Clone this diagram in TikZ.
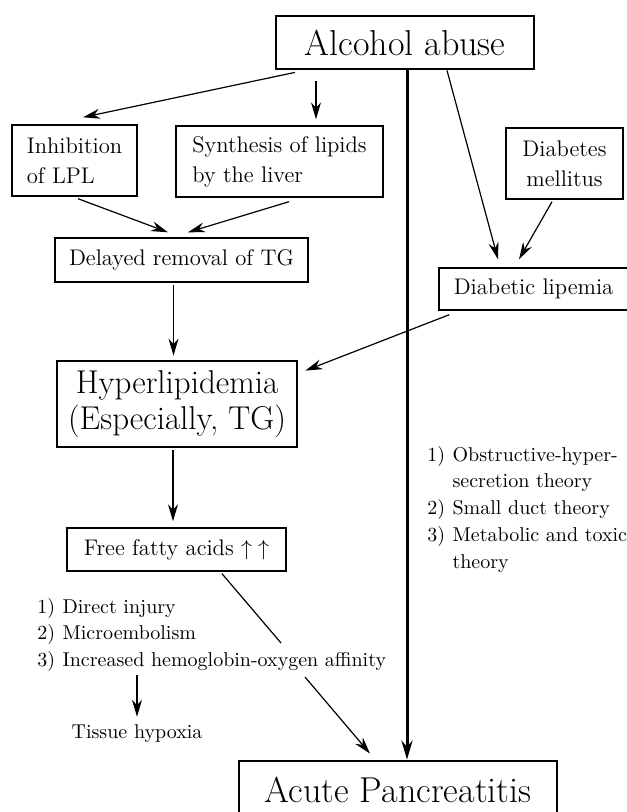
\documentclass[tikz,border=0pt]{standalone}
\usepackage{amssymb}
\usepackage{amsmath}
\usetikzlibrary{arrows.meta}

\begin{document}
\begin{tikzpicture}[x=0.5pt,y=-0.5pt,
	box/.style={draw,line width=0.7pt,inner sep=0pt,font=\fontsize{11.3}{15}\selectfont},
	bigbox/.style={draw,line width=1.4pt,inner sep=0pt,font=\fontsize{18}{18}\selectfont},
	lst/.style={inner sep=0pt,anchor=north west,font=\fontsize{10}{13.4}\selectfont},
	arr/.style={line width=0.6pt,-{Stealth[length=8.5pt,width=5pt]}},
	mainarr/.style={line width=1.5pt,-{Stealth[length=9.5pt,width=5.5pt]}}]
	\useasboundingbox (0,0) rectangle (626,812);
	
	%BOXES
	\node[bigbox,minimum width=129pt,minimum height=26.5pt] (alcohol) at (405,42.5) {Alcohol abuse};
	\node[box,align=left,minimum width=62.5pt,minimum height=35.5pt] (inhib) at (74.5,160.5) {Inhibition\\of LPL};
	\node[box,align=left,minimum width=103.5pt,minimum height=35.5pt] (synth) at (279.5,161.5) {Synthesis of lipids\\by the liver};
	\node[box,align=center,minimum width=58.5pt,minimum height=35.5pt] (diab) at (564.5,163.5) {Diabetes\\mellitus};
	\node[box,minimum width=126.5pt,minimum height=22pt] (delayed) at (181.5,260) {Delayed removal of TG};
	\node[box,minimum width=94.5pt,minimum height=21pt] (lipemia) at (533.5,289) {Diabetic lipemia};
	\node[bigbox,align=center,font=\fontsize{16.5}{18}\selectfont,minimum width=120pt,minimum height=43pt] (hyper) at (177,404) {Hyperlipidemia\\(Especially, TG)};
	\node[box,minimum width=109.5pt,minimum height=21.5pt] (ffa) at (176.5,549.5) {Free fatty acids $\uparrow$\hspace{3pt}$\uparrow$};
	\node[bigbox,minimum width=159pt,minimum height=29pt] (acute) at (398,790) {Acute Pancreatitis};
	
	%LISTS
	\node[lst] (mech) at (37,594) {\begin{tabular}{@{}l@{\hspace{3.7pt}}l@{}}
		1) & Direct injury\\
		2) & Microembolism\\
		3) & Increased hemoglobin-oxygen affinity
	\end{tabular}};
	\node[lst] (theory) at (427,442) {\begin{tabular}{@{}l@{\hspace{3.7pt}}l@{}}
		1) & Obstructive-hyper-\\
		   & secretion theory\\
		2) & Small duct theory\\
		3) & Metabolic and toxic\\
		   & theory
	\end{tabular}};
	\node[inner sep=0pt,anchor=base,font=\fontsize{10}{13.4}\selectfont] (tissue) at (137,738) {Tissue hypoxia};
	
	%MAIN ARROW
	\draw[mainarr] ([xshift=1pt]alcohol.south) -- ([xshift=1pt]alcohol.south |- acute.north);
	
	%ARROWS
	\draw[arr] ([shift={(-110,2)}]alcohol.south) -- ([shift={(8.5,-7)}]inhib.north);
	\draw[arr] ([shift={(-89,11)}]alcohol.south) -- ([shift={(36.5,-6)}]synth.north);
	\draw[arr] ([shift={(42,0)}]alcohol.south) -- ([shift={(-35.5,-8)}]lipemia.north);
	\draw[arr] ([shift={(-12.5,2)}]diab.south) -- ([shift={(-14.5,-8)}]lipemia.north);
	\draw[arr] ([shift={(3.5,2)}]inhib.south) -- ([shift={(-13.5,-5)}]delayed.north);
	\draw[arr] ([shift={(9.5,4)}]synth.south) -- ([shift={(6.5,-5)}]delayed.north);
	\draw[arr] ([shift={(-8,2)}]delayed.south) -- ([shift={(-3.5,-4)}]hyper.north);
	\draw[arr] ([shift={(11,4)}]lipemia.south west) -- ([shift={(7,11)}]hyper.north east);
	\draw[arr] ([shift={(-4,2)}]hyper.south) -- ([shift={(-3.5,-6)}]ffa.north);
	
	%BROKEN LINE PAST THE LIST
	\coordinate (gapA) at (281,643);
	\coordinate (gapB) at (305,677);
	\draw[line width=0.6pt] ([shift={(45.5,2)}]ffa.south) -- (gapA);
	\draw[arr] (gapB) -- ([shift={(-28,-6)}]acute.north);
	\draw[arr,shorten >=3.5pt] (mech.south -| tissue.north) -- (tissue.north);
\end{tikzpicture}
\end{document}
